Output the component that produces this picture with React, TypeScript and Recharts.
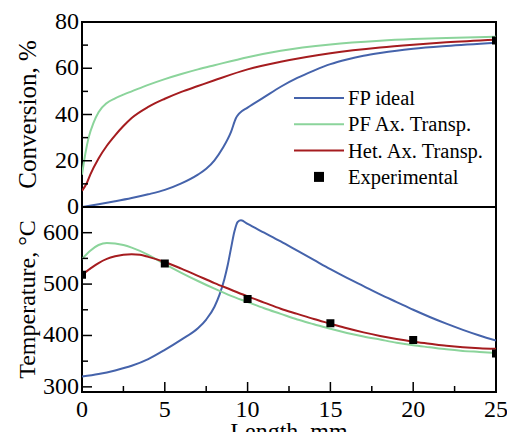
import React from 'react';
import {
  ComposedChart,
  Line,
  Scatter,
  XAxis,
  YAxis,
  ReferenceArea,
} from 'recharts';

// ── Data ────────────────────────────────────────────────────
const LENGTH_TICKS = [0, 2.5, 5, 7.5, 10, 12.5, 15, 17.5, 20, 22.5, 25];
const CONVERSION_TICKS = [0, 10, 20, 30, 40, 50, 60, 70, 80];
const TEMPERATURE_TICKS = [300, 350, 400, 450, 500, 550, 600];

// conversion, %
const FP_CONV_LEN = [0, 1, 2, 3, 4, 5, 6, 7, 7.5, 8, 8.5, 9, 9.3, 9.5, 10, 11, 12, 13, 14, 15, 16, 17, 18, 19, 20, 22, 25];
const FP_CONV = [0, 1.2, 2.5, 3.9, 5.5, 7.4, 10.2, 14, 16.5, 20.2, 25.5, 32.5, 38.5, 40.5, 43, 47.5, 52, 55.8, 59, 61.8, 63.8, 65.4, 66.6, 67.6, 68.4, 69.6, 71];

const PF_CONV_LEN = [0, 0.2, 0.4, 0.7, 1, 1.5, 2, 2.5, 3, 4, 5, 6, 7, 8, 10, 12, 15, 18, 20, 22, 25];
const PF_CONV = [14, 23, 30, 36.5, 41, 45, 47, 48.6, 50, 52.8, 55.3, 57.5, 59.5, 61.3, 64.8, 67.6, 70.3, 71.9, 72.6, 73.1, 73.6];

const HET_CONV_LEN = [0, 0.3, 0.5, 1, 1.5, 2, 2.5, 3, 4, 5, 6, 7, 8, 10, 12, 15, 18, 20, 22, 25];
const HET_CONV = [7, 10.5, 14, 21, 26.5, 31, 35, 38.5, 43.3, 46.8, 49.8, 52.3, 54.8, 59.5, 62.8, 66.5, 69, 70.2, 71.2, 72.3];

const EXP_CONV_LEN = [25];
const EXP_CONV = [72];

// temperature, °C
const FP_TEMP_LEN = [0, 1, 2, 3, 4, 5, 6, 7, 7.5, 8, 8.3, 8.6, 8.8, 9, 9.2, 9.4, 9.6, 10, 11, 12, 13, 14, 15, 16, 17, 18, 19, 20, 21, 22, 23, 24, 25];
const FP_TEMP = [320, 325, 332, 341, 354, 372, 392, 414, 431, 456, 479, 510, 537, 570, 602, 621, 624, 617, 600, 583, 565, 547, 529, 512, 496, 480, 465, 450, 436, 423, 411, 400, 390];

const PF_TEMP_LEN = [0, 0.5, 1, 1.5, 2, 2.5, 3, 4, 5, 6, 7, 8, 9, 10, 11, 12, 13, 14, 15, 16, 17, 18, 19, 20, 21, 22, 23, 24, 25];
const PF_TEMP = [549, 565, 576, 580, 579, 576, 571, 557, 539, 522, 506, 491, 477, 465, 453, 442, 431, 422, 413, 405, 398, 392, 386, 381, 377, 373, 370, 368, 366];

const HET_TEMP_LEN = [0, 0.5, 1, 1.5, 2, 2.5, 3, 3.5, 4, 5, 6, 7, 8, 9, 10, 11, 12, 13, 14, 15, 16, 17, 18, 19, 20, 21, 22, 23, 24, 25];
const HET_TEMP = [518, 530, 541, 549, 554, 557, 558, 557, 553, 543, 530, 516, 502, 489, 476, 464, 452, 442, 432, 423, 414, 406, 399, 393, 388, 384, 380, 377, 375, 374];

const EXP_TEMP_LEN = [0, 5, 10, 15, 20, 25];
const EXP_TEMP = [518, 540, 471, 424, 391, 365];

const SERIES = [
  { name: 'FP ideal', color: '#4563ab' },
  { name: 'PF Ax. Transp.', color: '#8bd49b' },
  { name: 'Het. Ax. Transp.', color: '#a51c1f' },
  { name: 'Experimental', color: '#000000' },
];

const toPoints = (xs: number[], ys: number[]) => xs.map((x, i) => ({ x, y: ys[i] }));

// ── Layout ──────────────────────────────────────────────────
const W = 507;
const PLOT_LEFT = 82;
const PLOT_RIGHT = 496;
const TOP_PLOT_TOP = 22;
const MID = 207;
const BOTTOM_PLOT_BOTTOM = 392;
const FONT = '"Liberation Serif", "Times New Roman", serif';

const XTick = ({ x, payload, axisY, labels }: any) => {
  const v = payload.value;
  const major = v % 5 === 0;
  return (
    <g>
      <line x1={x} x2={x} y1={axisY} y2={axisY - (major ? 10 : 6)} stroke="#000" strokeWidth={1.5} />
      {labels && major && (
        <text x={x} y={axisY + 25} textAnchor="middle" fontSize={24} fontFamily={FONT} fill="#000">
          {v}
        </text>
      )}
    </g>
  );
};

const YTick = ({ y, payload, step }: any) => {
  const v = payload.value;
  const major = v % step === 0;
  return (
    <g>
      <line x1={PLOT_LEFT} x2={PLOT_LEFT + (major ? 10 : 6)} y1={y} y2={y} stroke="#000" strokeWidth={1.5} />
      {major && (
        <text x={PLOT_LEFT - 3} y={y + 7} textAnchor="end" fontSize={24} fontFamily={FONT} fill="#000">
          {v}
        </text>
      )}
    </g>
  );
};

const axisTitle = (text: string, size: number) => ({ viewBox }: any) => {
  const cy = viewBox.y + viewBox.height / 2;
  return (
    <text
      transform={`translate(27, ${cy}) rotate(-90)`}
      textAnchor="middle"
      dominantBaseline="central"
      fontSize={size}
      fontFamily={FONT}
      fill="#000"
    >
      {text}
    </text>
  );
};

function Legend() {
  return (
    <svg width={W} height={200} style={{ position: 'absolute', left: 0, top: 0, pointerEvents: 'none' }}>
      {SERIES.map((s, i) => {
        const y = 98 + i * 26.3;
        return (
          <g key={s.name}>
            {i < 3 ? (
              <line x1={294} x2={344} y1={y} y2={y} stroke={s.color} strokeWidth={2} />
            ) : (
              <rect x={314} y={y - 5} width={10} height={10} fill={s.color} />
            )}
            <text x={348} y={y} dominantBaseline="central" fontSize={20.5} fontFamily={FONT} fill="#000">
              {s.name}
            </text>
          </g>
        );
      })}
    </svg>
  );
}

export default function App() {
  const [fp, pf, het, exp] = SERIES;
  return (
    <div style={{ position: 'absolute', left: 0, top: 0, width: W, height: 432, background: '#fff', overflow: 'hidden' }}>
      {/* Conversion panel */}
      <div style={{ position: 'absolute', left: 0, top: 0 }}>
        <ComposedChart
          width={W}
          height={MID + 25}
          margin={{ top: TOP_PLOT_TOP, right: W - PLOT_RIGHT, bottom: 25, left: 0 }}
        >
          <XAxis
            dataKey="x"
            type="number"
            domain={[0, 25]}
            ticks={LENGTH_TICKS}
            interval={0}
            height={0}
            axisLine={false}
            tickLine={false}
            tick={(p: any) => <XTick {...p} axisY={MID} labels={false} />}
            allowDataOverflow
          />
          <YAxis
            type="number"
            domain={[0, 80]}
            ticks={CONVERSION_TICKS}
            interval={0}
            width={PLOT_LEFT}
            axisLine={false}
            tickLine={false}
            tick={(p: any) => <YTick {...p} step={20} />}
            label={{ content: axisTitle('Conversion, %', 25) }}
          />
          <ReferenceArea x1={0} x2={25} y1={0} y2={80} fill="none" stroke="#000" strokeWidth={2} />
          <Line data={toPoints(FP_CONV_LEN, FP_CONV)} dataKey="y" type="monotone" stroke={fp.color} strokeWidth={2} dot={false} isAnimationActive={false} />
          <Line data={toPoints(PF_CONV_LEN, PF_CONV)} dataKey="y" type="monotone" stroke={pf.color} strokeWidth={2} dot={false} isAnimationActive={false} />
          <Line data={toPoints(HET_CONV_LEN, HET_CONV)} dataKey="y" type="monotone" stroke={het.color} strokeWidth={2} dot={false} isAnimationActive={false} />
          <Scatter data={toPoints(EXP_CONV_LEN, EXP_CONV)} dataKey="y" shape="square" fill={exp.color} isAnimationActive={false} />
        </ComposedChart>
      </div>

      {/* Temperature panel */}
      <div style={{ position: 'absolute', left: 0, top: 0 }}>
        <ComposedChart
          width={W}
          height={432}
          margin={{ top: MID, right: W - PLOT_RIGHT, bottom: 0, left: 0 }}
        >
          <XAxis
            dataKey="x"
            type="number"
            domain={[0, 25]}
            ticks={LENGTH_TICKS}
            interval={0}
            height={432 - BOTTOM_PLOT_BOTTOM}
            axisLine={false}
            tickLine={false}
            tick={(p: any) => <XTick {...p} axisY={BOTTOM_PLOT_BOTTOM} labels />}
            label={{
              content: ({ viewBox }: any) => (
                <text x={viewBox.x + viewBox.width / 2} y={439} textAnchor="middle" fontSize={24} fontFamily={FONT} fill="#000">
                  Length, mm
                </text>
              ),
            }}
            allowDataOverflow
          />
          <YAxis
            type="number"
            domain={[290, 650]}
            ticks={TEMPERATURE_TICKS}
            interval={0}
            width={PLOT_LEFT}
            axisLine={false}
            tickLine={false}
            tick={(p: any) => <YTick {...p} step={100} />}
            label={{ content: axisTitle('Temperature, °C', 24) }}
          />
          <ReferenceArea x1={0} x2={25} y1={290} y2={650} fill="none" stroke="#000" strokeWidth={2} />
          <Line data={toPoints(FP_TEMP_LEN, FP_TEMP)} dataKey="y" type="monotone" stroke={fp.color} strokeWidth={2} dot={false} isAnimationActive={false} />
          <Line data={toPoints(PF_TEMP_LEN, PF_TEMP)} dataKey="y" type="monotone" stroke={pf.color} strokeWidth={2} dot={false} isAnimationActive={false} />
          <Line data={toPoints(HET_TEMP_LEN, HET_TEMP)} dataKey="y" type="monotone" stroke={het.color} strokeWidth={2} dot={false} isAnimationActive={false} />
          <Scatter data={toPoints(EXP_TEMP_LEN, EXP_TEMP)} dataKey="y" shape="square" fill={exp.color} isAnimationActive={false} />
        </ComposedChart>
      </div>

      <Legend />
    </div>
  );
}
